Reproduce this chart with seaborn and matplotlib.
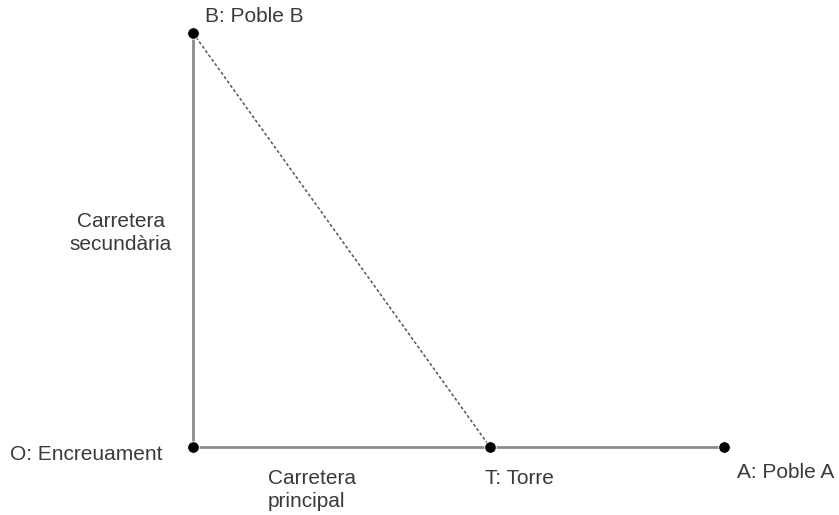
import pandas as pd
import seaborn as sns
import matplotlib.pyplot as plt

sns.set_theme(style="white")
plt.rcParams['font.family'] = ['Liberation Sans', 'DejaVu Sans']

# points of the diagram (O at the origin)
names = ["O", "T", "A", "B"]
labels = ["O: Encreuament", "T: Torre", "A: Poble A", "B: Poble B"]
xs = [0, 297, 531, 0]
ys = [0, 0, 0, 414]

pts = pd.DataFrame({"name": names, "label": labels, "x": xs, "y": ys}).set_index("name")

fig = plt.figure(figsize=(8.39, 5.15), dpi=100)
ax = fig.add_axes([0, 0, 1, 1])

# roads
main_road = pts.loc[["O", "A"]]
side_road = pts.loc[["O", "B"]]
sight = pts.loc[["B", "T"]]
road_kw = dict(x="x", y="y", sort=False, estimator=None, ax=ax)
sns.lineplot(data=main_road, color="#8c8c8c", lw=2, **road_kw)
sns.lineplot(data=side_road, color="#8c8c8c", lw=2, **road_kw)
sns.lineplot(data=sight, color="#555555", lw=1.1, linestyle=(0, (2, 1.5)), **road_kw)

sns.scatterplot(data=pts, x="x", y="y", color="black", s=70, zorder=5, ax=ax)

tc = "#3a3a3a"
fs = 15
ax.text(pts.loc["B", "x"] + 12, pts.loc["B", "y"] + 16, labels[3], ha="left", va="center", fontsize=fs, color=tc)
ax.text(pts.loc["O", "x"] - 30, pts.loc["O", "y"] - 8, labels[0], ha="right", va="center", fontsize=fs, color=tc)
ax.text(pts.loc["T", "x"] - 5, pts.loc["T", "y"] - 31, labels[1], ha="left", va="center", fontsize=fs, color=tc)
ax.text(pts.loc["A", "x"] + 13, pts.loc["A", "y"] - 26, labels[2], ha="left", va="center", fontsize=fs, color=tc)
ax.text(75, -43, "Carretera\nprincipal", ha="left", va="center", fontsize=fs, color=tc, linespacing=1.25)
ax.text(-72, 214, "Carretera\nsecundària", ha="center", va="center", fontsize=fs, color=tc, linespacing=1.25)

ax.set_xlim(-193, 646)
ax.set_ylim(-68, 447)
ax.set_axis_off()

fig.savefig("out.png", dpi=100)
